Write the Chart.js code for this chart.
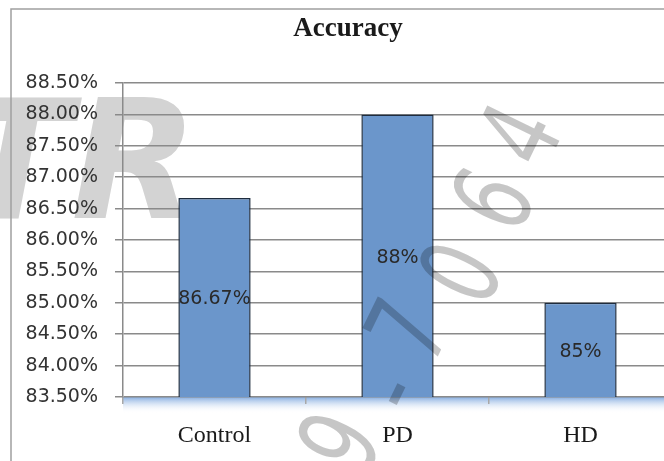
<!DOCTYPE html>
<html>
<head>
<meta charset="utf-8">
<title>Accuracy</title>
<script src="https://cdn.jsdelivr.net/npm/chart.js@4/dist/chart.umd.min.js"></script>
<style>
    html, body { margin: 0; padding: 0; background: #fff; overflow: hidden; }
    canvas { display: block; }
</style>
</head>
<body>
<canvas id="chart" width="672" height="461"></canvas>
<script>
"use strict"

const categories = ["Control", "PD", "HD"];
const accuracy = [86.67, 88, 85];
const yMin = 83.5;
const yMax = 88.5;
const yStep = 0.5;

// stamp characters laid over the picture (not data, just the scan's watermark)
const stampChars = ["9", "-", "7", "0", "6", "4"];
const stampSpots = [[345, 445], [395, 393], [413, 333], [466, 275], [498, 202], [525, 137]];

// frame round the chart, light blue floor, grey stamp letters behind
const decorations = {
    id: "decorations",
    beforeDraw(chart) {
        const ctx = chart.ctx;
        const area = chart.chartArea;
        ctx.save();
        ctx.fillStyle = "#fff";
        ctx.fillRect(0, 0, chart.width, chart.height);

        ctx.fillStyle = "#d3d3d3";
        ctx.font = "italic bold 165px 'DejaVu Sans'";
        ctx.textAlign = "right";
        ctx.textBaseline = "alphabetic";
        ctx.fillText("TR", 198, 218);

        ctx.strokeStyle = "#a0a0a0";
        ctx.lineWidth = 1.5;
        ctx.beginPath();
        ctx.moveTo(11, chart.height);
        ctx.lineTo(11, 9);
        ctx.lineTo(chart.width, 9);
        ctx.stroke();

        const floor = ctx.createLinearGradient(0, area.bottom, 0, area.bottom + 16);
        floor.addColorStop(0, "#86ade0");
        floor.addColorStop(1, "rgba(255,255,255,0)");
        ctx.fillStyle = floor;
        ctx.fillRect(area.left, area.bottom, area.right - area.left, 16);
        ctx.restore();
    }
};

// value written in the middle of each bar, stamp number over it all
const barLabels = {
    id: "barLabels",
    afterDraw(chart) {
        const ctx = chart.ctx;
        const meta = chart.getDatasetMeta(0);
        const yScale = chart.scales.y;

        for (let i = 0; i < stampChars.length; i++) {
            ctx.save();
            ctx.globalCompositeOperation = "multiply";
            ctx.fillStyle = "#c6c6c6";
            ctx.font = "110px 'DejaVu Sans'";
            ctx.textAlign = "center";
            ctx.textBaseline = "middle";
            ctx.translate(stampSpots[i][0], stampSpots[i][1]);
            ctx.rotate(-64 * Math.PI / 180);
            ctx.scale(0.68, 1);
            ctx.fillText(stampChars[i], 0, 4);
            ctx.restore();
        }

        ctx.save();
        ctx.font = "19px 'DejaVu Sans', sans-serif";
        ctx.fillStyle = "#2a2a2a";
        ctx.textAlign = "center";
        ctx.textBaseline = "middle";
        for (let i = 0; i < meta.data.length; i++) {
            const bar = meta.data[i];
            const top = yScale.getPixelForValue(accuracy[i]);
            const bottom = yScale.getPixelForValue(yMin);
            ctx.fillText(accuracy[i] + "%", bar.x, (top + bottom) / 2 + 2);
        }
        ctx.restore();
    }
};

const data = {
    labels: categories,
    datasets: [
        {
            label: "Accuracy",
            data: accuracy,
            backgroundColor: "#6b96cb",
            borderColor: "#1e2c3e",
            borderWidth: 1.5,
            categoryPercentage: 1,
            barPercentage: 0.395,
        },
    ]
};

const config = {
    type: "bar",
    data: data,
    options: {
        responsive: false,
        animation: false,
        layout: { padding: { left: 24, right: 0, top: 0, bottom: 0 } },
        plugins: {
            legend: { display: false },
            tooltip: { enabled: false },
            title: {
                display: true,
                text: "Accuracy",
                color: "#1a1a1a",
                font: { family: "'Liberation Serif'", size: 27, weight: "bold", lineHeight: 1.2 },
                padding: { top: 13, bottom: 37.6 },
            },
        },
        scales: {
            x: {
                grid: { display: true, offset: true, drawOnChartArea: false, tickLength: 7, color: "#a8a8a8", lineWidth: 1.5 },
                border: { display: false },
                ticks: {
                    color: "#1a1a1a",
                    padding: 17,
                    font: { family: "'Liberation Serif'", size: 24 },
                },
                afterFit(scale) { scale.height = 64; },
            },
            y: {
                min: yMin,
                max: yMax,
                grid: { color: "#8a8a8a", lineWidth: 1.5, tickLength: 8 },
                border: { display: true, color: "#8a8a8a", width: 1.5 },
                ticks: {
                    stepSize: yStep,
                    padding: 17,
                    color: "#333",
                    font: { family: "'DejaVu Sans'", size: 19 },
                    callback: function (value) { return value.toFixed(2) + "%"; },
                },
                afterFit(scale) { scale.width = 99; },
            },
        },
    },
    plugins: [decorations, barLabels],
};

const accuracyChart = new Chart(document.getElementById("chart"), config);
</script>
</body>
</html>
